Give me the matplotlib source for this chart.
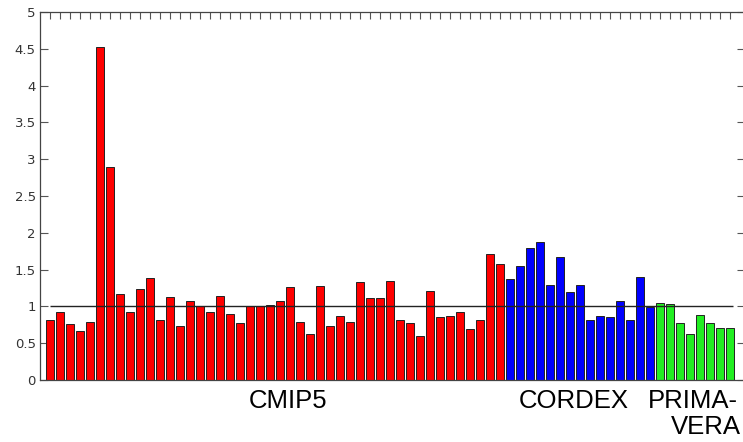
import matplotlib
matplotlib.use("Agg")
import matplotlib.pyplot as plt
import numpy as np

cmip5 = [0.81, 0.93, 0.76, 0.66, 0.79, 4.52, 2.89, 1.17, 0.93, 1.23, 1.38,
         0.82, 1.13, 0.74, 1.07, 1.00, 0.93, 1.14, 0.89, 0.77, 1.00, 1.01,
         1.02, 1.08, 1.27, 0.79, 0.62, 1.28, 0.74, 0.87, 0.79, 1.33, 1.12,
         1.11, 1.35, 0.82, 0.78, 0.60, 1.21, 0.86, 0.87, 0.93, 0.69, 0.81,
         1.71, 1.57]
cordex = [1.37, 1.55, 1.80, 1.87, 1.29, 1.67, 1.20, 1.29, 0.81, 0.87, 0.86,
          1.08, 0.82, 1.40, 0.99]
primavera = [1.05, 1.03, 0.77, 0.62, 0.88, 0.78, 0.71, 0.70]

group_labels = ["CMIP5", "CORDEX", "PRIMA-", "VERA"]
colors = ["#ff0000", "#0000ff", "#22ee22"]
yticks = [0, 0.5, 1, 1.5, 2, 2.5, 3, 3.5, 4, 4.5, 5]
ytick_labels = ["0", "0.5", "1", "1.5", "2", "2.5", "3", "3.5", "4", "4.5", "5"]

W, H = 743, 442
fig = plt.figure(figsize=(W / 100, H / 100), dpi=100)
left, right, bottom, top = 40, 745, 380, 12
ax = fig.add_axes([left / W, (H - bottom) / H, (right - left) / W, (bottom - top) / H])

series = [cmip5, cordex, primavera]
start = 1
for vals, col in zip(series, colors):
    x = np.arange(start, start + len(vals))
    ax.bar(x, vals, width=0.88, color=col, edgecolor="#222222", linewidth=0.7, zorder=2)
    start += len(vals)
n = start - 1

ax.hlines(1.0, 0.97, 69.3, color="#222222", linewidth=1.0, zorder=3)

ax.set_xlim(0, 70.5)
ax.set_ylim(0, 5)
ax.set_yticks(yticks)
ax.set_yticklabels(ytick_labels, color="#333333", fontsize=9.5)
ax.set_xticks(np.arange(1, n + 1))
ax.set_xticklabels([])
ax.tick_params(axis="x", direction="in", top=True, bottom=True, length=5,
               width=0.8, color="#555555")
ax.tick_params(axis="y", direction="in", left=True, right=True, length=6,
               width=0.8, color="#555555", pad=3)
for s in ax.spines.values():
    s.set_color("#444444")
    s.set_linewidth(0.9)

fam = ["Liberation Sans", "DejaVu Sans"]
label_pos = [(288, 400.5), (574, 400.5), (693, 400.5), (706, 427)]
for txt, (px, py) in zip(group_labels, label_pos):
    fig.text(px / W, 1 - py / H, txt, ha="center", va="center",
             fontsize=18.5, family=fam, color="black")

fig.savefig("out.png", dpi=100)
